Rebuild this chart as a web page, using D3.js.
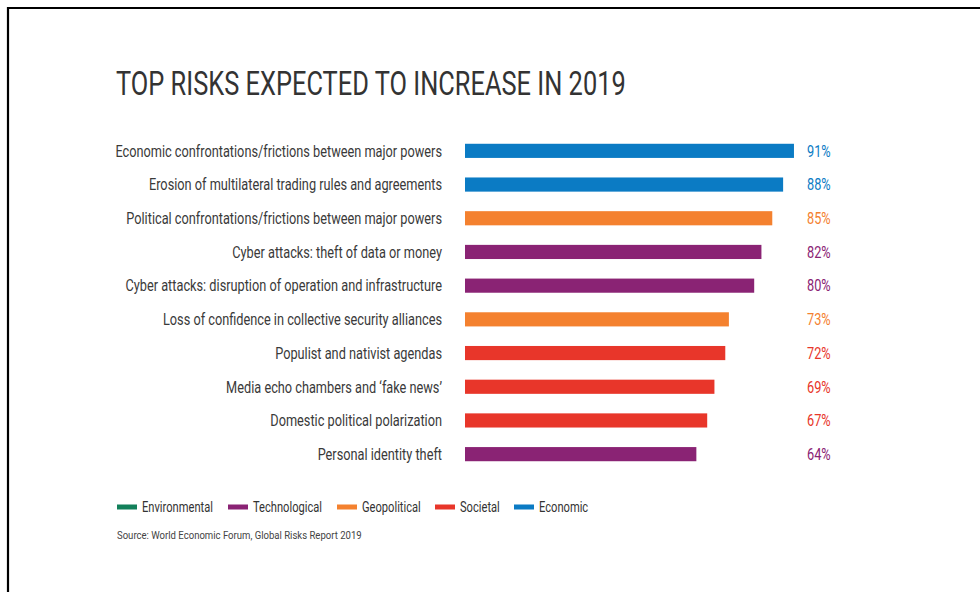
<!DOCTYPE html>
<html><head><meta charset="utf-8">
<script src="https://cdn.jsdelivr.net/npm/d3@7/dist/d3.min.js"></script>
<style>body{margin:0;background:#fff}svg{display:block}</style>
</head><body>
<svg id="c" width="980" height="592"></svg>
<script>
const risks = [
  "Economic confrontations/frictions between major powers",
  "Erosion of multilateral trading rules and agreements",
  "Political confrontations/frictions between major powers",
  "Cyber attacks: theft of data or money",
  "Cyber attacks: disruption of operation and infrastructure",
  "Loss of confidence in collective security alliances",
  "Populist and nativist agendas",
  "Media echo chambers and \u2018fake news\u2019",
  "Domestic political polarization",
  "Personal identity theft"
];
const values = [91, 88, 85, 82, 80, 73, 72, 69, 67, 64];
const riskCategory = ["Economic","Economic","Geopolitical","Technological","Technological","Geopolitical","Societal","Societal","Societal","Technological"];
const legendCategories = ["Environmental","Technological","Geopolitical","Societal","Economic"];
const categoryColors = ["#12805a","#8a2374","#f4812f","#e8362a","#0b7bc4"];
const titleText = "TOP RISKS EXPECTED TO INCREASE IN 2019";
const sourceText = "Source: World Economic Forum, Global Risks Report 2019";

const svg = d3.select("#c");
const FONT = "Roboto,'Liberation Sans',sans-serif";
const color = d3.scaleOrdinal().domain(legendCategories).range(categoryColors);

function squeezed(parent, x, y, txt, size, fill, anchor){
  return parent.append("text").attr("font-family",FONT).attr("font-size",size)
    .attr("fill",fill).attr("text-anchor",anchor||"start")
    .attr("transform",`translate(${x},${y})`).text(txt);
}
function applySqueeze(sel, s){
  sel.each(function(){
    const tr = d3.select(this).attr("transform").replace(/ scale\([^)]*\)/,"");
    d3.select(this).attr("transform", tr + ` scale(${s},1)`);
  });
}

// frame
svg.append("path").attr("d","M8,592 L8,8 L980,8").attr("fill","none").attr("stroke","#000").attr("stroke-width",2.2);

// title
const title = squeezed(svg, 116, 95, titleText, 34, "#333");
applySqueeze(title, 510/title.node().getComputedTextLength());

const x = d3.scaleLinear().domain([0,100]).range([465, 826.5]);
const y = d3.scaleBand().domain(risks).range([134, 471]).paddingInner(0.58).paddingOuter(0.29);

const g = svg.append("g");
g.selectAll("rect.bar").data(risks).join("rect").attr("class","bar")
  .attr("x", x(0)).attr("y", d=>y(d)).attr("height", y.bandwidth())
  .attr("width", (d,i)=>x(values[i])-x(0))
  .attr("fill",(d,i)=>color(riskCategory[i]));

const labels = g.selectAll("text.lab").data(risks).join("text").attr("class","lab")
  .attr("transform",d=>`translate(442,${y(d)+y.bandwidth()/2+5.8})`)
  .attr("text-anchor","end").attr("font-family",FONT).attr("font-size",16)
  .attr("fill","#3a3a3a").text(d=>d);
const labS = 327/labels.nodes()[0].getComputedTextLength();
applySqueeze(labels, labS);

const vals = g.selectAll("text.val").data(risks).join("text").attr("class","val")
  .attr("transform",d=>`translate(807,${y(d)+y.bandwidth()/2+5.8})`)
  .attr("font-family",FONT).attr("font-size",16)
  .attr("fill",(d,i)=>color(riskCategory[i])).text((d,i)=>values[i]+"%");
applySqueeze(vals, labS);

// legend
const legendX = [117, 228, 337, 435, 514];
const lg = svg.append("g");
const legTexts = [];
legendCategories.forEach((c,i)=>{
  lg.append("rect").attr("x",legendX[i]).attr("y",504.5).attr("width",20).attr("height",5).attr("fill",color(c));
  legTexts.push(squeezed(lg, legendX[i]+25, 512, c, 14, "#333").node());
});
applySqueeze(d3.selectAll(legTexts), 71/legTexts[0].getComputedTextLength());

const src = squeezed(svg, 117, 539, sourceText, 11.5, "#444");
applySqueeze(src, 245/src.node().getComputedTextLength());
</script>
</body></html>
